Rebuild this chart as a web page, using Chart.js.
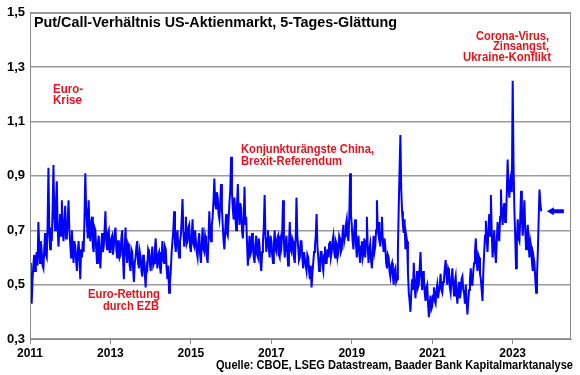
<!DOCTYPE html>
<html><head><meta charset="utf-8">
<script src="https://cdn.jsdelivr.net/npm/chart.js@4/dist/chart.umd.min.js"></script>
<style>html,body{margin:0;padding:0;background:#fff}#wrap{width:580px;height:375px}</style>
</head><body><div id="wrap"><canvas id="c" width="580" height="375"></canvas></div>
<script>
// Put/Call ratio (5-day smoothed), weekly readings (48 per year)
const r2011 = [0.58,0.50,0.43,0.52,0.57,0.61,0.55,0.59,0.62,0.57,0.73,0.64,0.58,0.66,0.62,0.57,0.56,0.63,0.69,0.61,0.60,0.72,0.93,0.70,0.63,0.71,0.66,0.78,0.94,0.75,0.70,0.80,0.88,0.71,0.64,0.70,0.76,0.68,0.81,0.70,0.66,0.73,0.79,0.67,0.68,0.74,0.81,0.70];
const r2012 = [0.65,0.60,0.70,0.63,0.58,0.66,0.64,0.59,0.55,0.62,0.66,0.60,0.52,0.63,0.60,0.66,0.62,0.74,0.91,0.78,0.72,0.67,0.81,0.70,0.66,0.73,0.75,0.64,0.62,0.71,0.70,0.63,0.58,0.65,0.68,0.61,0.56,0.64,0.69,0.62,0.64,0.70,0.77,0.66,0.63,0.69,0.70,0.62];
const r2013 = [0.62,0.67,0.68,0.61,0.64,0.69,0.71,0.63,0.60,0.66,0.66,0.60,0.61,0.67,0.70,0.60,0.52,0.63,0.71,0.62,0.58,0.65,0.64,0.57,0.55,0.63,0.62,0.56,0.51,0.58,0.60,0.64,0.66,0.58,0.56,0.62,0.60,0.55,0.53,0.61,0.58,0.54,0.49,0.57,0.56,0.63,0.62,0.58];
const r2014 = [0.55,0.61,0.64,0.57,0.58,0.63,0.67,0.60,0.56,0.61,0.62,0.57,0.54,0.60,0.66,0.59,0.58,0.64,0.63,0.56,0.52,0.57,0.47,0.51,0.55,0.62,0.66,0.70,0.77,0.65,0.62,0.68,0.70,0.63,0.60,0.66,0.68,0.74,0.815,0.70,0.64,0.69,0.75,0.65,0.66,0.71,0.72,0.64];
const r2015 = [0.62,0.68,0.74,0.65,0.64,0.70,0.70,0.62,0.60,0.66,0.69,0.61,0.58,0.65,0.71,0.63,0.62,0.68,0.66,0.60,0.58,0.67,0.77,0.68,0.66,0.72,0.75,0.81,0.89,0.80,0.78,0.84,0.82,0.76,0.74,0.80,0.87,0.78,0.72,0.66,0.63,0.70,0.76,0.69,0.68,0.74,0.80,0.85];
const r2016 = [0.97,0.84,0.78,0.74,0.82,0.76,0.70,0.79,0.87,0.77,0.72,0.80,0.78,0.70,0.67,0.74,0.86,0.72,0.75,0.65,0.57,0.63,0.68,0.61,0.62,0.69,0.66,0.60,0.58,0.65,0.68,0.61,0.60,0.67,0.64,0.58,0.55,0.62,0.66,0.71,0.83,0.68,0.62,0.67,0.70,0.63,0.60,0.68];
const r2017 = [0.66,0.61,0.58,0.65,0.70,0.63,0.62,0.67,0.68,0.61,0.60,0.66,0.64,0.70,0.81,0.66,0.60,0.65,0.68,0.62,0.57,0.64,0.73,0.63,0.62,0.67,0.66,0.60,0.58,0.66,0.82,0.68,0.64,0.59,0.60,0.66,0.66,0.60,0.56,0.62,0.62,0.57,0.55,0.61,0.60,0.55,0.52,0.57];
const r2018 = [0.49,0.54,0.58,0.62,0.64,0.68,0.76,0.64,0.60,0.55,0.57,0.62,0.62,0.57,0.55,0.61,0.64,0.58,0.58,0.63,0.60,0.65,0.66,0.60,0.62,0.66,0.68,0.62,0.60,0.66,0.65,0.60,0.62,0.68,0.67,0.62,0.63,0.69,0.72,0.66,0.68,0.72,0.74,0.68,0.66,0.75,0.91,0.76];
const r2019 = [0.72,0.66,0.63,0.70,0.74,0.65,0.60,0.66,0.68,0.61,0.58,0.64,0.66,0.60,0.62,0.67,0.60,0.66,0.75,0.64,0.58,0.63,0.65,0.59,0.56,0.62,0.68,0.62,0.64,0.70,0.81,0.70,0.68,0.73,0.64,0.69,0.75,0.66,0.62,0.67,0.64,0.58,0.56,0.61,0.60,0.55,0.53,0.57];
const r2020 = [0.58,0.53,0.50,0.55,0.56,0.51,0.52,0.62,0.78,0.92,1.05,0.85,0.77,0.72,0.69,0.74,0.63,0.68,0.66,0.55,0.47,0.44,0.40,0.47,0.52,0.48,0.58,0.50,0.45,0.51,0.55,0.49,0.50,0.56,0.62,0.53,0.48,0.55,0.53,0.47,0.44,0.49,0.50,0.43,0.38,0.43,0.46,0.41];
const r2021 = [0.42,0.46,0.49,0.44,0.43,0.48,0.50,0.45,0.45,0.50,0.54,0.48,0.47,0.51,0.52,0.56,0.59,0.53,0.50,0.56,0.55,0.49,0.47,0.52,0.56,0.50,0.46,0.51,0.53,0.47,0.43,0.48,0.51,0.45,0.47,0.52,0.53,0.48,0.47,0.43,0.50,0.44,0.39,0.44,0.48,0.52,0.56,0.50];
const r2022 = [0.50,0.55,0.58,0.62,0.67,0.58,0.55,0.61,0.60,0.54,0.52,0.48,0.44,0.55,0.62,0.68,0.735,0.66,0.62,0.70,0.76,0.68,0.83,0.70,0.60,0.65,0.70,0.62,0.58,0.66,0.73,0.68,0.66,0.75,0.85,0.76,0.72,0.78,0.80,0.73,0.74,0.84,0.96,0.86,0.82,0.88,0.90,0.84];
const r2023 = [1.25,0.95,0.78,0.68,0.56,0.66,0.74,0.67,0.66,0.74,0.845,0.74,0.68,0.75,0.81,0.70,0.63,0.68,0.72,0.65,0.60,0.66,0.64,0.58,0.55,0.60,0.58,0.52,0.47,0.53,0.62,0.74,0.85,0.80,0.77];
const years = [2011,2012,2013,2014,2015,2016,2017,2018,2019,2020,2021,2022,2023];
const yearSeries = [r2011,r2012,r2013,r2014,r2015,r2016,r2017,r2018,r2019,r2020,r2021,r2022,r2023];
const xTicks = [2011,2013,2015,2017,2019,2021,2023];
const yTicks = [0.3,0.5,0.7,0.9,1.1,1.3,1.5];
const arrowValue = 0.77;

const points = [];
yearSeries.forEach((arr, k) => arr.forEach((v, i) => points.push({x: years[k] + i/48, y: v})));

const RED = '#e2141e';
const FONT = 'Arial, "Liberation Sans", sans-serif';

function fitText(ctx, text, x, y, w, size, color) {
  ctx.save();
  ctx.font = 'bold ' + size + 'px ' + FONT;
  const m = ctx.measureText(text).width;
  ctx.translate(x, y);
  ctx.scale(w / m, 1);
  ctx.fillStyle = color;
  ctx.textAlign = 'left';
  ctx.textBaseline = 'alphabetic';
  ctx.fillText(text, 0, 0);
  ctx.restore();
}

const decor = {
  id: 'decor',
  afterDraw(chart) {
    const {ctx, chartArea: a, scales} = chart;
    ctx.save();
    ctx.strokeStyle = '#8c8c8c';
    ctx.lineWidth = 1;
    ctx.strokeRect(a.left + 0.5, a.top + 0.5, a.right - a.left - 1, a.bottom - a.top);
    const tipX = scales.x.getPixelForValue(2023.85);
    const yy = scales.y.getPixelForValue(arrowValue);
    ctx.fillStyle = '#0000ff';
    ctx.beginPath();
    ctx.moveTo(tipX, yy);
    ctx.lineTo(tipX + 7, yy - 4);
    ctx.lineTo(tipX + 7, yy - 2);
    ctx.lineTo(tipX + 17, yy - 2);
    ctx.lineTo(tipX + 17, yy + 2);
    ctx.lineTo(tipX + 7, yy + 2);
    ctx.lineTo(tipX + 7, yy + 4);
    ctx.closePath();
    ctx.fill();
    ctx.restore();
    fitText(ctx, 'Put/Call-Verhältnis US-Aktienmarkt, 5-Tages-Glättung', 34, 26.5, 363, 14, '#000');
    fitText(ctx, 'Euro-', 53, 93, 30, 12, RED);
    fitText(ctx, 'Krise', 53, 103.5, 29, 12, RED);
    fitText(ctx, 'Konjunkturängste China,', 241, 153, 133, 12, RED);
    fitText(ctx, 'Brexit-Referendum', 241, 165, 101, 12, RED);
    fitText(ctx, 'Euro-Rettung', 88, 298, 72, 12, RED);
    fitText(ctx, 'durch EZB', 103, 310, 56, 12, RED);
    fitText(ctx, 'Corona-Virus,', 476, 39.5, 73, 12, RED);
    fitText(ctx, 'Zinsangst,', 493, 50.3, 56, 12, RED);
    fitText(ctx, 'Ukraine-Konflikt', 463, 60.7, 88, 12, RED);
    fitText(ctx, 'Quelle: CBOE, LSEG Datastream, Baader Bank Kapitalmarktanalyse', 216, 369, 357, 12, '#000');
  }
};

new Chart(document.getElementById('c'), {
  type: 'line',
  data: { datasets: [{ data: points, borderColor: '#0000ff', borderWidth: 2, pointRadius: 0, tension: 0, fill: false }] },
  options: {
    responsive: false, animation: false, events: [],
    layout: { padding: { left: 0, top: 11, right: 9, bottom: 0 } },
    plugins: { legend: { display: false }, tooltip: { enabled: false }, title: { display: false } },
    scales: {
      x: {
        type: 'linear', min: 2011, max: 2024.45,
        afterBuildTicks: s => { s.ticks = xTicks.map(v => ({ value: v })); },
        afterFit: s => { s.height = 36; },
        grid: { drawOnChartArea: false, drawTicks: true, tickLength: 5, color: '#8c8c8c' },
        border: { color: '#8c8c8c' },
        ticks: { color: '#000', font: { family: FONT, size: 12, weight: 'bold' }, padding: 2, maxRotation: 0, callback: v => String(v) }
      },
      y: {
        min: 0.3, max: 1.5,
        afterBuildTicks: s => { s.ticks = yTicks.map(v => ({ value: v })); },
        afterFit: s => { s.width = 30; },
        grid: { color: '#9a9a9a', drawTicks: false, lineWidth: 1.5 },
        border: { color: '#8c8c8c' },
        ticks: { color: '#000', font: { family: FONT, size: 13, weight: 'bold' }, padding: 5, callback: v => v.toFixed(1).replace('.', ',') }
      }
    }
  },
  plugins: [decor]
});
</script></body></html>
